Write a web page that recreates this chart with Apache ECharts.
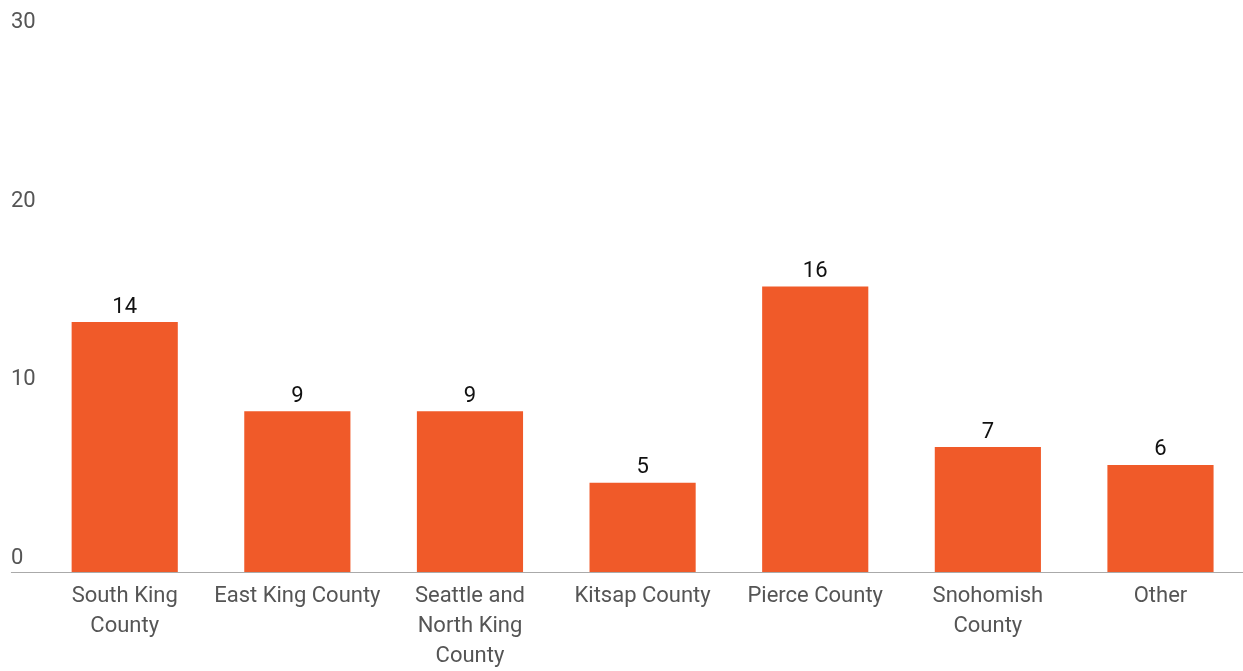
<!DOCTYPE html>
<html>
<head>
<meta charset="utf-8">
<script src="https://cdn.jsdelivr.net/npm/echarts@6/dist/echarts.min.js"></script>
<style>
html,body{margin:0;padding:0;background:#fff;overflow:hidden;width:1243px;height:671px;}
#chart{width:1250px;height:671px;}
</style>
</head>
<body>
<div id="chart"></div>
<script>
const categories = ["South King\nCounty", "East King County", "Seattle and\nNorth King\nCounty", "Kitsap County", "Pierce County", "Snohomish\nCounty", "Other"];
const values = [14, 9, 9, 5, 16, 7, 6];
const yTicks = [0, 10, 20, 30];

const FONT = "Roboto, sans-serif";
const chart = echarts.init(document.getElementById('chart'), null, {renderer: 'canvas'});
const option = {
  animation: false,
  backgroundColor: '#ffffff',
  grid: {left: 38.4, right: 3.2, top: 36.5, bottom: 96.5, containLabel: false},
  xAxis: {
    type: 'category',
    data: categories,
    axisLine: {show: true, lineStyle: {color: '#aaaaaa', width: 1}},
    axisTick: {show: false},
    axisLabel: {color: '#555555', fontSize: 22, fontFamily: FONT, lineHeight: 30, margin: 9, interval: 0}
  },
  yAxis: {
    type: 'value',
    min: yTicks[0],
    max: yTicks[yTicks.length - 1],
    interval: 10,
    axisLine: {show: false},
    axisTick: {show: false},
    splitLine: {show: false},
    axisLabel: {color: '#555555', fontSize: 22, fontFamily: FONT, align: 'left', verticalAlign: 'bottom', margin: 27.4, padding: [0, 0, 3, 0]}
  },
  series: [{
    type: 'bar',
    data: values,
    barWidth: '61.5%',
    itemStyle: {color: '#F05A29'},
    label: {show: true, position: 'top', distance: 4, color: '#111111', fontSize: 22, fontFamily: FONT}
  }]
};
chart.setOption(option);
const y0 = chart.convertToPixel({yAxisIndex: 0}, 0);
const xStart = chart.convertToPixel({xAxisIndex: 0}, 0) - 113.75;
chart.setOption({
  graphic: [{
    type: 'line', silent: true,
    shape: {x1: xStart, y1: Math.round(y0) + 0.5, x2: 1250, y2: Math.round(y0) + 0.5},
    style: {stroke: '#aaaaaa', lineWidth: 1}
  }]
});
</script>
</body>
</html>
